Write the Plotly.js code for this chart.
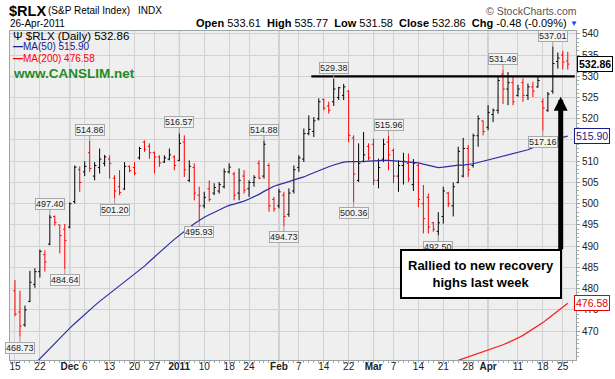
<!DOCTYPE html>
<html><head><meta charset="utf-8">
<script src="https://cdn.plot.ly/plotly-3.0.1.min.js"></script>
<style>html,body{margin:0;padding:0;background:#fff;overflow:hidden;} #chart{width:615px;height:379px;}</style>
</head><body><div id="chart"></div>
<script>
const dates = ['2010-11-15','2010-11-16','2010-11-17','2010-11-18','2010-11-19','2010-11-22','2010-11-23','2010-11-24','2010-11-26','2010-11-29','2010-11-30','2010-12-01','2010-12-02','2010-12-03','2010-12-06','2010-12-07','2010-12-08','2010-12-09','2010-12-10','2010-12-13','2010-12-14','2010-12-15','2010-12-16','2010-12-17','2010-12-20','2010-12-21','2010-12-22','2010-12-23','2010-12-27','2010-12-28','2010-12-29','2010-12-30','2010-12-31','2011-01-03','2011-01-04','2011-01-05','2011-01-06','2011-01-07','2011-01-10','2011-01-11','2011-01-12','2011-01-13','2011-01-14','2011-01-18','2011-01-19','2011-01-20','2011-01-21','2011-01-24','2011-01-25','2011-01-26','2011-01-27','2011-01-28','2011-01-31','2011-02-01','2011-02-02','2011-02-03','2011-02-04','2011-02-07','2011-02-08','2011-02-09','2011-02-10','2011-02-11','2011-02-14','2011-02-15','2011-02-16','2011-02-17','2011-02-18','2011-02-22','2011-02-23','2011-02-24','2011-02-25','2011-02-28','2011-03-01','2011-03-02','2011-03-03','2011-03-04','2011-03-07','2011-03-08','2011-03-09','2011-03-10','2011-03-11','2011-03-14','2011-03-15','2011-03-16','2011-03-17','2011-03-18','2011-03-21','2011-03-22','2011-03-23','2011-03-24','2011-03-25','2011-03-28','2011-03-29','2011-03-30','2011-03-31','2011-04-01','2011-04-04','2011-04-05','2011-04-06','2011-04-07','2011-04-08','2011-04-11','2011-04-12','2011-04-13','2011-04-14','2011-04-15','2011-04-18','2011-04-19','2011-04-20','2011-04-21','2011-04-25','2011-04-26'];

const open = [
479.5,474.5,471.5,477.0,481.0,484.0,488.0,490.5,497.0,495.0,
494.0,494.5,500.5,508.0,507.5,512.0,506.5,508.5,509.5,510.5,
506.0,504.0,503.5,508.8,508.5,510.8,514.5,513.5,512.0,511.0,
509.8,510.5,511.0,510.2,514.5,505.5,508.5,502.0,499.5,503.5,
502.5,503.0,504.0,507.5,507.0,502.5,506.5,503.5,505.0,509.5,
506.5,509.0,501.0,499.5,502.0,497.5,503.0,508.5,510.5,516.5,
517.0,520.0,524.5,523.0,524.0,525.0,525.5,526.5,515.5,505.5,
510.0,513.5,514.0,505.5,510.5,514.5,512.5,506.5,509.0,509.5,
504.5,509.0,500.0,501.5,495.5,493.5,497.0,502.5,499.5,505.0,
506.5,513.0,509.0,516.0,519.5,518.0,521.0,522.0,530.5,527.0,
528.5,525.5,528.5,525.5,527.5,527.5,524.0,522.0,526.5,533.5,
535.0,533.61];
const high = [
482.0,479.5,476.0,484.2,484.8,489.2,489.0,497.40,497.2,495.0,
495.2,500.3,509.0,508.8,510.0,514.86,509.8,513.0,511.5,511.4,
506.7,507.9,509.8,509.0,509.8,513.4,514.9,514.2,512.3,511.4,
511.4,513.0,511.4,516.57,516.1,510.2,509.5,504.0,502.8,505.5,
504.8,505.1,508.3,509.5,507.5,508.3,507.9,505.5,506.7,510.2,
514.88,509.5,501.6,503.5,502.8,503.6,509.0,511.4,517.7,520.8,
520.4,524.8,524.8,524.0,529.38,527.5,528.2,526.7,516.1,514.2,
516.9,514.2,515.3,510.6,515.3,515.96,513.0,510.2,512.0,511.8,
510.5,509.5,504.4,502.4,495.7,498.0,504.0,502.8,505.0,513.4,
515.5,513.8,516.5,520.8,519.6,523.2,522.4,529.8,531.49,531.0,
529.8,528.0,529.5,528.3,528.7,529.8,524.8,526.3,537.01,535.6,
536.0,535.77];
const low = [
473.5,468.73,471.0,476.8,480.2,482.6,484.0,490.2,494.8,488.3,
484.64,494.2,500.0,502.8,506.5,507.5,505.5,507.1,508.8,505.9,
501.20,502.0,503.2,507.4,506.7,510.4,512.2,510.6,507.1,508.7,
509.6,510.2,507.9,510.0,506.3,505.1,500.8,495.93,498.9,500.5,
502.0,502.4,503.6,507.1,500.8,500.8,502.4,501.6,504.0,505.8,
505.9,498.1,498.1,498.9,494.73,496.9,502.4,507.5,509.8,516.1,
515.7,519.6,522.0,521.2,523.0,524.4,524.4,514.5,500.36,505.1,
509.8,510.2,504.4,503.6,509.8,507.9,504.8,502.8,504.5,505.1,
503.0,499.2,493.0,493.0,493.4,492.50,495.3,499.2,497.0,504.8,
506.2,506.3,508.5,513.4,516.1,517.3,519.2,521.2,523.5,523.2,
523.2,525.2,524.0,524.4,525.1,527.3,517.16,521.6,525.9,531.8,
531.6,531.58];
const close = [
474.0,471.2,475.0,481.5,484.0,488.8,486.3,496.8,495.6,492.5,
491.3,500.0,508.6,505.0,508.8,508.3,509.0,510.5,511.0,509.5,
503.0,502.6,508.8,507.8,507.2,513.0,512.8,512.0,511.0,509.6,
510.8,511.5,509.0,514.2,508.0,508.8,502.5,499.5,501.5,501.0,
503.8,504.5,507.5,508.6,502.0,505.5,503.2,505.0,506.2,506.0,
514.0,499.5,498.8,502.8,497.0,502.5,508.0,510.8,516.5,517.5,
519.5,524.0,522.5,522.0,527.0,527.3,527.5,516.1,507.0,509.5,
511.5,510.8,505.5,508.5,514.0,511.5,506.5,509.0,510.0,505.8,
509.5,501.0,496.5,494.5,494.0,495.5,503.0,500.0,504.0,512.3,
513.0,508.0,516.0,520.0,517.0,521.5,522.0,529.0,527.0,528.5,
524.0,527.0,525.5,527.5,526.5,529.0,522.5,525.8,533.0,534.3,
533.34,532.86];
const priorClose = 480.5;

const ma50 = [
457.5,458.7,459.9,461.1,462.3,463.5,464.8,466.1,467.3,468.5,
469.6,470.7,471.8,472.9,474.0,475.0,476.0,477.0,477.9,478.8,
479.7,480.6,481.5,482.4,483.3,484.3,485.3,486.4,487.5,488.6,
489.6,490.6,491.6,492.6,493.5,494.4,495.3,496.1,496.8,497.4,
497.9,498.5,499.1,499.6,499.9,500.2,500.6,501.1,501.6,502.2,
502.9,503.6,504.1,504.5,504.8,505.2,505.6,505.9,506.3,506.8,
507.3,507.8,508.2,508.7,509.1,509.5,509.8,509.9,509.9,509.8,
509.9,510.0,510.1,510.2,510.2,510.2,510.1,510.0,510.0,509.9,
509.8,509.6,509.3,509.0,508.7,508.5,508.6,508.8,509.0,509.1,
509.1,509.2,509.4,509.7,510.0,510.2,510.5,510.8,511.1,511.4,
511.7,512.0,512.3,512.7,513.2,513.7,514.2,514.7,515.1,515.4,
515.7,515.90];
const ma200StartDate = '2011-03-21';
const ma200 = [461.8,462.3,462.7,463.1,463.5,463.9,464.3,464.7,465.1,465.5,
465.9,466.3,466.8,467.3,467.8,468.4,469.0,469.7,470.4,471.2,
472.0,472.9,473.8,474.7,475.6,476.58];

const yTickVals = [470,475,480,485,490,495,500,505,510,515,520,525,530,535,540];
const yTickText = ['470','475','480','485','490','495','500','505','510','','520','525','530','535','540'];
const tickDates = ['2010-11-15','2010-11-22','2010-12-01','2010-12-06','2010-12-13','2010-12-20','2010-12-27','2011-01-03','2011-01-10','2011-01-18','2011-01-24','2011-02-01','2011-02-07','2011-02-14','2011-02-22','2011-03-01','2011-03-07','2011-03-14','2011-03-21','2011-03-28','2011-04-01','2011-04-11','2011-04-18','2011-04-25'];
const tickText = ['15','22','<b>Dec</b>','6','13','20','27','<b>2011</b>','10','18','24','<b>Feb</b>','7','14','22','<b>Mar</b>','7','14','21','28','<b>Apr</b>','11','18','25'];
const monthStartDates = ['2010-12-01','2011-01-03','2011-02-01','2011-03-01','2011-04-01'];
const highLabelDates = ['2010-11-24','2010-12-07','2011-01-03','2011-01-27','2011-02-16','2011-03-04','2011-04-06','2011-04-20'];
const lowLabelDates = ['2010-11-16','2010-11-30','2010-12-14','2011-01-07','2011-02-02','2011-02-23','2011-03-18','2011-04-18'];
const resistanceLevel = 530;
const noteText = 'Rallied to new recovery<br>highs last week';

const FONT = 'Liberation Sans, Arial, sans-serif';
const idx = dates.map((d, i) => i);
const pos = d => dates.indexOf(d);
const isDown = close.map((c, i) => c < (i === 0 ? priorClose : close[i - 1]));

function ohlcTrace(down, color) {
  const ids = idx.filter(i => isDown[i] === down);
  return {
    type: 'ohlc', x: ids,
    open: ids.map(i => open[i]), high: ids.map(i => high[i]),
    low: ids.map(i => low[i]), close: ids.map(i => close[i]),
    increasing: {line: {color: color, width: 1}},
    decreasing: {line: {color: color, width: 1}},
    tickwidth: 0.35, hoverinfo: 'none', showlegend: false
  };
}
const ma200Start = pos(ma200StartDate);
const traces = [
  {type: 'scatter', mode: 'lines', x: idx, y: ma50, line: {color: '#2e2ea0', width: 1.2}, hoverinfo: 'none', showlegend: false},
  {type: 'scatter', mode: 'lines', x: ma200.map((v, k) => ma200Start + k), y: ma200, line: {color: '#ff1a1a', width: 1.2}, hoverinfo: 'none', showlegend: false},
  ohlcTrace(false, '#000000'),
  ohlcTrace(true, '#ff0000')
];

const last = close.length - 1;
const chg = close[last] - close[last - 1];
const pct = chg / close[last - 1] * 100;
const nb = '\u00a0';
const statText = '<b>Open</b> ' + open[last].toFixed(2) + nb + nb + '<b>High</b> ' + high[last].toFixed(2) + nb + nb +
  '<b>Low</b> ' + low[last].toFixed(2) + nb + nb + '<b>Close</b> ' + close[last].toFixed(2) + nb + nb +
  '<b>Chg</b> ' + chg.toFixed(2) + ' (' + pct.toFixed(2) + '%)';

const annotations = [];
function pa(text, x, y, xanchor, size, color, extra) {
  annotations.push(Object.assign({text: text, xref: 'paper', yref: 'paper', x: x, y: y, xanchor: xanchor, yanchor: 'middle',
    showarrow: false, font: {family: FONT, size: size, color: color}, borderpad: 0}, extra || {}));
}
pa('<b>$RLX</b>', -0.0035, 1.0623, 'left', 14.5, '#000');
pa('(S&P Retail Index)', 0.0654, 1.0608, 'left', 10, '#000');
pa('INDX', 0.2244, 1.0608, 'left', 10, '#000');
pa('26-Apr-2011', -0.0018, 1.0222, 'left', 10, '#000');
pa(statText, 0.9859, 1.0228, 'right', 11, '#000');
pa('▼', 0.9956, 1.0243, 'center', 8, '#1f3fff');
pa('© StockCharts.com', 1.0035, 1.0623, 'right', 10.5, '#555');
pa('Ψ $RLX (Daily) ' + close[last].toFixed(2), 0.0035, 0.9848, 'left', 11.5, '#000');
pa('<b>—</b>MA(50) ' + ma50[last].toFixed(2), 0.0035, 0.9514, 'left', 10, '#1a1a8c');
pa('<b>—</b>MA(200) ' + ma200[ma200.length - 1].toFixed(2), 0.0035, 0.9164, 'left', 10, '#ff0000');
pa('<b>www.CANSLIM.net</b>', 0.0035, 0.8723, 'left', 13.5, '#1e8c1e');

function priceLabel(i, val, above) {
  annotations.push({x: i, y: val, xref: 'x', yref: 'y', text: val.toFixed(2), showarrow: true,
    arrowhead: 0, arrowwidth: 1, arrowcolor: '#9a9a9a', ax: 0, ay: above ? -11 : 11,
    bgcolor: '#f3f3f3', bordercolor: '#a8a8a8', borderwidth: 1, borderpad: 0,
    font: {family: FONT, size: 9, color: '#222'}});
}
highLabelDates.forEach(d => priceLabel(pos(d), high[pos(d)], true));
lowLabelDates.forEach(d => priceLabel(pos(d), low[pos(d)], false));

function tag(val, text, color, x, bold) {
  annotations.push({xref: 'paper', yref: 'y', x: x, y: val, xanchor: 'center', yanchor: 'middle', showarrow: false,
    text: bold ? '<b>' + text + '</b>' : text, bgcolor: '#ffffff', bordercolor: color, borderwidth: 1, borderpad: 1,
    font: {family: FONT, size: 10.5, color: color}});
}
tag(close[last], close[last].toFixed(2), '#000000', 1.0336, true);
tag(ma50[last], ma50[last].toFixed(2), '#1a1a8c', 1.0274, false);
tag(ma200[ma200.length - 1], ma200[ma200.length - 1].toFixed(2), '#e00000', 1.0274, false);

annotations.push({xref: 'paper', yref: 'paper', x: 0.8322, y: 0.2614, xanchor: 'center', yanchor: 'middle', showarrow: false,
  text: '<b>' + noteText + '</b>', bgcolor: '#ffffff', bordercolor: '#000', borderwidth: 2, borderpad: 3,
  width: 152, height: 40, font: {family: FONT, size: 13, color: '#000'}});
annotations.push({xref: 'x', yref: 'y', x: 109.58, y: 525.2, text: '', showarrow: true, ax: 0, ay: 154,
  arrowhead: 2, arrowsize: 0.56, arrowwidth: 5, arrowcolor: '#000'});

const shapes = monthStartDates.map(d => ({type: 'line', xref: 'x', yref: 'paper', x0: pos(d), x1: pos(d), y0: 0, y1: 1,
  line: {color: '#a6a6a6', width: 1}, layer: 'below'}));
shapes.push({type: 'line', xref: 'x', yref: 'y', x0: 59.5, x1: 112.4, y0: resistanceLevel, y1: resistanceLevel,
  line: {color: '#000', width: 2.2}, layer: 'above'});

const layout = {
  width: 615, height: 379,
  margin: {l: 10, r: 39, t: 31, b: 19, pad: 0},
  paper_bgcolor: '#ffffff', plot_bgcolor: '#efefef',
  showlegend: false,
  xaxis: {type: 'linear', range: [-1.0, 112.65], tickmode: 'array', tickvals: tickDates.map(pos), ticktext: tickText,
    tickfont: {family: FONT, size: 10, color: '#222'}, showgrid: true, gridcolor: '#d2d2d2', gridwidth: 1,
    ticks: '', ticklabelstandoff: -3, showline: true, linecolor: '#9aa5a5', mirror: true, zeroline: false,
    rangeslider: {visible: false}, fixedrange: true,
    minor: {tickmode: 'linear', tick0: 0, dtick: 1, ticks: 'outside', ticklen: 2, tickcolor: '#aaa', showgrid: false}},
  yaxis: {side: 'right', range: [463.2, 540.66], tickmode: 'array', tickvals: yTickVals, ticktext: yTickText,
    tickfont: {family: FONT, size: 10, color: '#222'}, showgrid: true, gridcolor: '#d2d2d2', gridwidth: 1,
    ticks: 'outside', ticklen: 3, tickcolor: '#999', showline: true, linecolor: '#9aa5a5', mirror: true, zeroline: false, fixedrange: true,
    minor: {tickmode: 'linear', tick0: 470, dtick: 1, ticks: 'outside', ticklen: 2, tickcolor: '#aaa', showgrid: false}},
  annotations: annotations,
  shapes: shapes
};
Plotly.newPlot('chart', traces, layout, {staticPlot: true, displayModeBar: false});
</script></body></html>
